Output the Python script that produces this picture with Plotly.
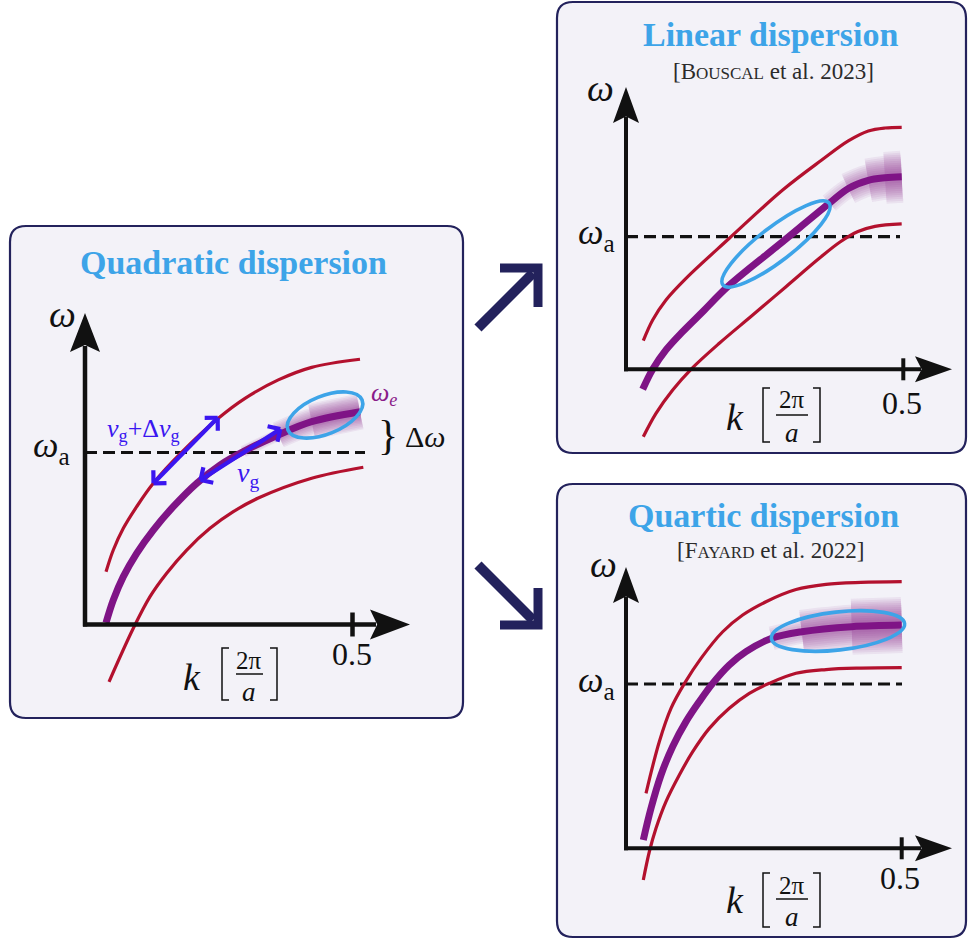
import math
import plotly.graph_objects as go

W, H = 968, 940
FONT = "Liberation Serif"
RED = "#b3112e"
PURPLE = "#7f1486"
SKY = "#3da4e8"
BLUE = "#3a16f0"
NAVY = "#23225c"
INK = "#111111"

# ---------------- data ----------------
# k in units of 2π/a, ω in units where the atomic frequency ω_a = 1
omega_a = 1.0
k_tick = 0.5
k_tick_label = "0.5"

# Quadratic dispersion
quad_k_upper = [0.0393, 0.0529, 0.0716, 0.0966, 0.1277, 0.1800, 0.2492, 0.2991, 0.3613, 0.4237, 0.5140]
quad_w_upper = [0.307, 0.433, 0.559, 0.685, 0.821, 0.999, 1.199, 1.315, 1.422, 1.495, 1.542]
quad_k_mid = [0.0393, 0.0529, 0.0716, 0.0966, 0.1277, 0.1650, 0.2088, 0.2523, 0.2959, 0.3613, 0.4237, 0.5140]
quad_w_mid = [0.010, 0.142, 0.278, 0.414, 0.549, 0.685, 0.821, 0.927, 1.005, 1.102, 1.179, 1.237]
quad_k_lower = [0.0449, 0.0903, 0.1215, 0.1527, 0.1901, 0.2336, 0.2772, 0.3239, 0.4237, 0.5202]
quad_w_lower = [-0.333, -0.022, 0.162, 0.298, 0.433, 0.559, 0.656, 0.735, 0.850, 0.914]
# group-velocity arrows (start, end) in (k, ω)
quad_arrow_fast = [(0.128, 0.821), (0.248, 1.202)]
quad_arrow_slow = [(0.216, 0.840), (0.365, 1.136)]

# Linear dispersion
lin_k_upper = [0.0312, 0.0481, 0.0721, 0.1082, 0.1863, 0.2825, 0.3529, 0.4008, 0.4369, 0.4670, 0.4971]
lin_w_upper = [0.216, 0.372, 0.523, 0.686, 0.988, 1.352, 1.578, 1.722, 1.797, 1.820, 1.825]
lin_k_mid = [0.0301, 0.0481, 0.0721, 0.1022, 0.1383, 0.1834, 0.2750, 0.3666, 0.4008, 0.4369, 0.4670, 0.4971]
lin_w_mid = [-0.151, 0.000, 0.146, 0.284, 0.434, 0.623, 0.937, 1.252, 1.364, 1.425, 1.444, 1.452]
lin_k_lower = [0.0312, 0.0541, 0.0842, 0.1172, 0.1682, 0.2285, 0.2885, 0.3485, 0.3859, 0.4183, 0.4490, 0.4971]
lin_w_lower = [-0.508, -0.332, -0.156, 0.000, 0.196, 0.409, 0.623, 0.837, 0.960, 1.039, 1.078, 1.096]

# Quartic dispersion
qua_k_upper = [0.0363, 0.0604, 0.0816, 0.1061, 0.1360, 0.1754, 0.2116, 0.2539, 0.3083, 0.3627, 0.4262, 0.5000]
qua_w_upper = [0.335, 0.649, 0.852, 1.004, 1.156, 1.318, 1.420, 1.501, 1.575, 1.606, 1.618, 1.623]
qua_k_mid = [0.0314, 0.0453, 0.0635, 0.0847, 0.1088, 0.1329, 0.1572, 0.1873, 0.2176, 0.2642, 0.3187, 0.4093, 0.5000]
qua_w_mid = [0.051, 0.243, 0.446, 0.620, 0.771, 0.893, 1.004, 1.116, 1.197, 1.278, 1.318, 1.349, 1.359]
qua_k_lower = [0.0314, 0.0423, 0.0544, 0.0725, 0.0967, 0.1210, 0.1511, 0.1873, 0.2236, 0.2599, 0.3083, 0.3627, 0.4262, 0.5000]
qua_w_lower = [-0.193, -0.021, 0.122, 0.284, 0.446, 0.588, 0.730, 0.852, 0.943, 1.004, 1.065, 1.088, 1.097, 1.100]

titles = ["Quadratic dispersion", "Linear dispersion", "Quartic dispersion"]
refs = [None,
        "[B<span style='font-size:17px'>OUSCAL</span> et al. 2023]",
        "[F<span style='font-size:17px'>AYARD</span> et al. 2022]"]

# ---------------- layout geometry (pixels) ----------------
panels = [
    dict(box=(10, 226, 463, 718), ox=85, oy=624.5, sx=535, sy=172,
         ytip=313, ybase=352, xtip=410, xback=370, ahw=15, th=12, dash_end=365, aw=4.5,
         title=(233, 262), ref=None, wlab=(62, 314), walab=(72, 447), tick_lab=(352, 654),
         klab=(192, 677), br=(222, 277, 648, 700), frac=(249, 660, 674, 692, 236, 263),
         curves=((quad_k_upper, quad_w_upper), (quad_k_lower, quad_w_lower)),
         mid=(quad_k_mid, quad_w_mid),
         blur_w=(36, 33, 30, 27, 24, 21, 18, 15, 12, 10),
         blur_starts=(10, 10, 10, 9, 9, 9, 9, 9, 8, 8),
         ell=(325, 415, 40, 19, 22)),
    dict(box=(557, 2, 966, 453), ox=626, oy=369.3, sx=554.6, sy=132.6,
         ytip=87, ybase=123, xtip=952, xback=915, ahw=13, th=11, dash_end=900, aw=4,
         title=(770, 35), ref=(773, 72), wlab=(600, 88), walab=(617, 235), tick_lab=(902, 403),
         klab=(735, 417), br=(763, 820, 388, 442), frac=(792, 400, 415, 433, 776, 808),
         curves=((lin_k_upper, lin_w_upper), (lin_k_lower, lin_w_lower)),
         mid=(lin_k_mid, lin_w_mid),
         blur_w=(52, 48, 44, 40, 36, 32, 28, 24, 20, 16, 12),
         blur_starts=(10, 10, 9, 9, 9, 8, 8, 8, 7, 7, 7),
         ell=(776, 244, 67, 17, 37.6)),
    dict(box=(557, 484, 966, 937), ox=626, oy=848.3, sx=551.4, sy=164.3,
         ytip=567, ybase=603, xtip=952, xback=915, ahw=13, th=11, dash_end=902, aw=4,
         title=(763, 515), ref=(770, 550), wlab=(603, 564), walab=(617, 682), tick_lab=(900, 878),
         klab=(735, 900), br=(763, 820, 873, 927), frac=(792, 885, 899, 917, 776, 808),
         curves=((qua_k_upper, qua_w_upper), (qua_k_lower, qua_w_lower)),
         mid=(qua_k_mid, qua_w_mid),
         blur_w=(56, 52, 48, 44, 40, 36, 32, 28, 24, 20, 16, 12),
         blur_starts=(11, 11, 11, 10, 10, 10, 10, 10, 9, 9, 9, 9),
         ell=(838, 631, 67, 19, 6.4)),
]


def dk(p, px):
    return (px - p["ox"]) / p["sx"]


def dw(p, py):
    return (p["oy"] - py) / p["sy"]


def pk(p, k):
    return p["ox"] + k * p["sx"]


def pw(p, w):
    return p["oy"] - w * p["sy"]


def fmt(v):
    return f"{v:.5f}"


fig = go.Figure()
shapes = []
annotations = []
layout_axes = {}


def paper(px, py):
    return px / W, 1 - py / H


# ---- panel boxes (paper coords) ----
for p in panels:
    x1, y1, x2, y2 = p["box"]
    r = 16
    pts = [("M", x1 + r, y1), ("L", x2 - r, y1), ("Q", x2, y1, x2, y1 + r), ("L", x2, y2 - r),
           ("Q", x2, y2, x2 - r, y2), ("L", x1 + r, y2), ("Q", x1, y2, x1, y2 - r), ("L", x1, y1 + r),
           ("Q", x1, y1, x1 + r, y1)]
    d = ""
    for seg in pts:
        cmd = seg[0]
        coords = seg[1:]
        parts = []
        for i in range(0, len(coords), 2):
            X, Y = paper(coords[i], coords[i + 1])
            parts.append(f"{fmt(X)},{fmt(Y)}")
        d += cmd + " ".join(parts) + " "
    d += "Z"
    shapes.append(dict(type="path", xref="paper", yref="paper", path=d,
                       line=dict(color=NAVY, width=2.2), fillcolor="#f3f2f8", layer="below"))

# ---- big arrows between panels ----
for (a, b, chev) in [((478, 328), (533, 273), [(500, 268), (538, 268), (538, 307)]),
                     ((478, 565), (533, 620), [(500, 625), (538, 625), (538, 588)])]:
    X0, Y0 = paper(*a)
    X1, Y1 = paper(*b)
    shapes.append(dict(type="line", xref="paper", yref="paper", x0=X0, y0=Y0, x1=X1, y1=Y1,
                       line=dict(color=NAVY, width=10)))
    d = "M" + " L".join(f"{fmt(paper(*q)[0])},{fmt(paper(*q)[1])}" for q in chev)
    shapes.append(dict(type="path", xref="paper", yref="paper", path=d,
                       line=dict(color=NAVY, width=9)))

for i, p in enumerate(panels, start=1):
    sfx = "" if i == 1 else str(i)
    xa, ya = "x" + sfx, "y" + sfx
    x1, y1, x2, y2 = p["box"]
    layout_axes["xaxis" + sfx] = dict(domain=[x1 / W, x2 / W], range=[dk(p, x1), dk(p, x2)],
                                      visible=False, fixedrange=True, anchor=ya)
    layout_axes["yaxis" + sfx] = dict(domain=[1 - y2 / H, 1 - y1 / H], range=[dw(p, y2), dw(p, y1)],
                                      visible=False, fixedrange=True, anchor=xa)

    def path_px(pts, close=False, p=p):
        s = "M" + " L".join(f"{fmt(dk(p, a))},{fmt(dw(p, b))}" for a, b in pts)
        return s + (" Z" if close else "")

    # dashed ω_a line (beneath curves)
    fig.add_trace(go.Scatter(x=[0, dk(p, p["dash_end"])], y=[omega_a, omega_a], xaxis=xa, yaxis=ya,
                             mode="lines", line=dict(color=INK, width=3.2, dash="12px,6px"),
                             hoverinfo="skip"))

    # red band edges
    for ks, ws in p["curves"]:
        fig.add_trace(go.Scatter(x=ks, y=ws, xaxis=xa, yaxis=ya, mode="lines",
                                 line=dict(color=RED, width=3.2, shape="spline", smoothing=1.0),
                                 hoverinfo="skip"))

    # blur around the end of the band
    mk, mw = p["mid"]
    for st, wdt in zip(p["blur_starts"], p["blur_w"]):
        fig.add_trace(go.Scatter(x=mk[st:], y=mw[st:], xaxis=xa, yaxis=ya, mode="lines",
                                 line=dict(color="rgba(135,25,140,0.075)", width=wdt,
                                           shape="spline", smoothing=1.0), hoverinfo="skip"))

    # central purple curve
    fig.add_trace(go.Scatter(x=mk, y=mw, xaxis=xa, yaxis=ya, mode="lines",
                             line=dict(color=PURPLE, width=7, shape="spline", smoothing=1.0),
                             hoverinfo="skip"))

    # axes lines
    ox, oy = p["ox"], p["oy"]
    fig.add_trace(go.Scatter(x=[dk(p, ox - 2), dk(p, p["xback"] + 6), None, 0, 0],
                             y=[0, 0, None, dw(p, oy + 2), dw(p, p["ybase"] - 6)],
                             xaxis=xa, yaxis=ya, mode="lines",
                             line=dict(color=INK, width=p["aw"]), hoverinfo="skip"))
    # arrow heads (stealth style)
    L = p["ybase"] - p["ytip"]
    shapes.append(dict(type="path", xref=xa, yref=ya,
                       path=path_px([(ox, p["ytip"]), (ox + p["ahw"], p["ybase"]),
                                     (ox, p["ybase"] - 0.18 * L), (ox - p["ahw"], p["ybase"])], True),
                       fillcolor=INK, line=dict(width=0)))
    L = p["xtip"] - p["xback"]
    shapes.append(dict(type="path", xref=xa, yref=ya,
                       path=path_px([(p["xtip"], oy), (p["xback"], oy - p["ahw"]),
                                     (p["xback"] + 0.18 * L, oy), (p["xback"], oy + p["ahw"])], True),
                       fillcolor=INK, line=dict(width=0)))
    # tick at k = 0.5
    shapes.append(dict(type="line", xref=xa, yref=ya, x0=k_tick, x1=k_tick,
                       y0=dw(p, oy - p["th"]), y1=dw(p, oy + p["th"]),
                       line=dict(color=INK, width=p["aw"])))

    # blue ellipse (cubic Bezier approximation)
    cx, cy, ea, eb, ang = p["ell"]
    t = math.radians(ang)
    u = (math.cos(t), -math.sin(t))
    v = (math.sin(t), math.cos(t))
    kap = 0.5523

    def P(a, b, cx=cx, cy=cy, u=u, v=v):
        return (cx + a * u[0] + b * v[0], cy + a * u[1] + b * v[1])

    quads = [((ea, 0), (ea, kap * eb), (kap * ea, eb), (0, eb)),
             ((0, eb), (-kap * ea, eb), (-ea, kap * eb), (-ea, 0)),
             ((-ea, 0), (-ea, -kap * eb), (-kap * ea, -eb), (0, -eb)),
             ((0, -eb), (kap * ea, -eb), (ea, -kap * eb), (ea, 0))]
    s = ""
    for qi, q in enumerate(quads):
        pts = [P(*c) for c in q]
        if qi == 0:
            s += f"M{fmt(dk(p, pts[0][0]))},{fmt(dw(p, pts[0][1]))} "
        s += "C" + " ".join(f"{fmt(dk(p, a))},{fmt(dw(p, b))}" for a, b in pts[1:]) + " "
    s += "Z"
    shapes.append(dict(type="path", xref=xa, yref=ya, path=s, line=dict(color=SKY, width=3.6)))

    # brackets and fraction bar of the k-axis label
    bl, brx, bt, bb = p["br"]
    shapes.append(dict(type="path", xref=xa, yref=ya,
                       path=path_px([(bl + 7, bt), (bl, bt), (bl, bb), (bl + 7, bb)]),
                       line=dict(color=INK, width=1.5)))
    shapes.append(dict(type="path", xref=xa, yref=ya,
                       path=path_px([(brx - 7, bt), (brx, bt), (brx, bb), (brx - 7, bb)]),
                       line=dict(color=INK, width=1.5)))
    fx, fy_num, fy_bar, fy_den, fb0, fb1 = p["frac"]
    shapes.append(dict(type="line", xref=xa, yref=ya, x0=dk(p, fb0), x1=dk(p, fb1),
                       y0=dw(p, fy_bar), y1=dw(p, fy_bar), line=dict(color=INK, width=1.5)))

    def lab(px, py, text, size, color=INK, xanchor="center", p=p, xa=xa, ya=ya):
        annotations.append(dict(x=dk(p, px), y=dw(p, py), xref=xa, yref=ya, text=text,
                                showarrow=False, xanchor=xanchor, yanchor="middle",
                                font=dict(family=FONT, size=size, color=color)))

    lab(*p["title"], f"<b>{titles[i - 1]}</b>", 34, SKY)
    if p["ref"]:
        lab(*p["ref"], refs[i - 1], 23, "#2b2b2b")
    lab(*p["wlab"], "<i>ω</i>", 38)
    lab(*p["walab"], "<i>ω</i><sub>a</sub>", 36, xanchor="right")
    lab(*p["tick_lab"], k_tick_label, 32)
    lab(*p["klab"], "<i>k</i>", 38)
    lab(fx, fy_num, "2π", 25)
    lab(fx, fy_den, "<i>a</i>", 27)

    if i == 1:
        # group velocity arrows
        for (a0, a1) in (quad_arrow_fast, quad_arrow_slow):
            xs = [a0[0], a1[0], None]
            ys = [a0[1], a1[1], None]
            for tip, other in [(a1, a0), (a0, a1)]:
                tx, ty = pk(p, tip[0]), pw(p, tip[1])
                bx, by = pk(p, other[0]) - tx, pw(p, other[1]) - ty
                n = math.hypot(bx, by)
                bx, by = bx / n, by / n
                for sgn in (1, -1):
                    c, s_ = math.cos(sgn * math.pi / 4), math.sin(sgn * math.pi / 4)
                    ax_, ay_ = bx * c - by * s_, bx * s_ + by * c
                    xs += [tip[0], dk(p, tx + 13 * ax_), None]
                    ys += [tip[1], dw(p, ty + 13 * ay_), None]
            fig.add_trace(go.Scatter(x=xs, y=ys, xaxis=xa, yaxis=ya, mode="lines",
                                     line=dict(color=BLUE, width=4.2), hoverinfo="skip"))
        lab(143, 430, "<i>v</i><sub>g</sub>+Δ<i>v</i><sub>g</sub>", 26, BLUE)
        lab(248, 474, "<i>v</i><sub>g</sub>", 28, BLUE)
        lab(384, 394, "<i>ω</i><sub><i>e</i></sub>", 26, "#8a1c8a")
        lab(388, 435, "}", 42)
        lab(425, 436, "Δ<i>ω</i>", 30)

fig.update_layout(width=W, height=H, margin=dict(l=0, r=0, t=0, b=0),
                  paper_bgcolor="white", plot_bgcolor="rgba(0,0,0,0)",
                  showlegend=False, hovermode=False,
                  shapes=shapes, annotations=annotations, **layout_axes)
fig.write_html("out.html", post_script="document.body.style.margin='0px';",
               config={"displayModeBar": False})
